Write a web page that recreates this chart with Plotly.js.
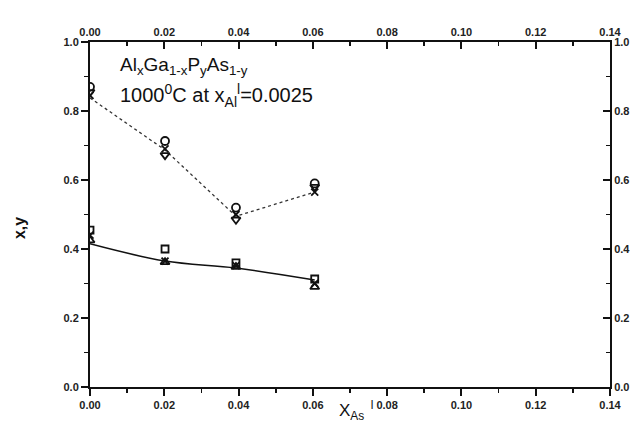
<!DOCTYPE html>
<html>
<head>
<meta charset="utf-8">
<script src="https://cdn.plot.ly/plotly-3.0.1.min.js"></script>
<style>html,body{margin:0;padding:0;background:#fff;}#chart{width:642px;height:426px;}</style>
</head>
<body>
<div id="chart"></div>
<script>
// Upper group (y values)
const xUp = [0, 0.0202, 0.0393, 0.0605];
const upCircle = [0.87, 0.713, 0.52, 0.59];
const upTriDown = [0.855, 0.672, 0.485, 0.58];
const upCross = [0.845, 0.69, 0.50, 0.565];
const upFitX = [0, 0.0202, 0.0393, 0.0605];
const upFit = [0.838, 0.687, 0.495, 0.565];
// Lower group (x values)
const xLow = [0, 0.0202, 0.0393, 0.0605];
const lowSquare = [0.455, 0.40, 0.36, 0.313];
const lowTriUp = [0.425, 0.362, 0.348, 0.29];
const lowCross = [0.44, 0.365, 0.352, 0.30];
const lowFit = [0.415, 0.365, 0.345, 0.31];
const xRange = [0, 0.14];
const yRange = [0, 1.0];

const mk = (sym, sz) => ({symbol: sym, size: sz, color: '#111', line: {color: '#111', width: 1.8}});
const traces = [
  {x: upFitX, y: upFit, mode: 'lines', line: {color: '#333', width: 1.3, dash: 'dot'}},
  {x: xUp, y: upCircle, mode: 'markers', marker: mk('circle-open', 8)},
  {x: xUp, y: upTriDown, mode: 'markers', marker: mk('triangle-down-open', 8)},
  {x: xUp, y: upCross, mode: 'markers', marker: mk('x-thin-open', 7)},
  {x: xLow, y: lowFit, mode: 'lines', line: {color: '#111', width: 1.5, shape: 'spline'}},
  {x: xLow, y: lowSquare, mode: 'markers', marker: mk('square-open', 7)},
  {x: xLow, y: lowTriUp, mode: 'markers', marker: mk('triangle-up-open', 8)},
  {x: xLow, y: lowCross, mode: 'markers', marker: mk('x-thin-open', 7)}
];
const tickFont = {family: 'Liberation Sans, Arial, sans-serif', size: 11, color: '#222', weight: 'bold'};
function xAx(side, tdir, extra) {
  return Object.assign({
    range: xRange, tickmode: 'linear', tick0: 0, dtick: 0.02, tickformat: '.2f',
    showgrid: false, zeroline: false, showline: true, side: side,
    linecolor: '#111', linewidth: 2, ticks: tdir, ticklen: 7, tickwidth: 2, tickcolor: '#111',
    tickfont: tickFont,
    minor: {tickmode: 'linear', tick0: 0, dtick: 0.01, ticks: tdir, ticklen: 4, tickwidth: 1.6, tickcolor: '#111', showgrid: false}
  }, extra || {});
}
function yAx(side, tdir, extra) {
  return Object.assign({
    range: yRange, tickmode: 'linear', tick0: 0, dtick: 0.2, tickformat: '.1f',
    showgrid: false, zeroline: false, showline: true, side: side,
    linecolor: '#111', linewidth: 2, ticks: tdir, ticklen: 7, tickwidth: 2, tickcolor: '#111',
    tickfont: tickFont,
    minor: {tickmode: 'linear', tick0: 0, dtick: 0.1, ticks: tdir, ticklen: 4, tickwidth: 1.6, tickcolor: '#111', showgrid: false}
  }, extra || {});
}
const layout = {
  width: 642, height: 426, showlegend: false,
  paper_bgcolor: '#fff', plot_bgcolor: '#fff',
  margin: {l: 90, r: 32, t: 42, b: 39},
  xaxis: xAx('bottom', 'outside'),
  xaxis2: xAx('top', 'inside', {overlaying: 'x', anchor: 'y'}),
  yaxis: yAx('left', 'outside'),
  yaxis2: yAx('right', 'inside', {overlaying: 'y', anchor: 'x'}),
  annotations: [
    {xref: 'paper', yref: 'paper', x: 0.053, y: 0.93, xanchor: 'left', yanchor: 'middle', showarrow: false,
     text: 'Al<sub>x</sub>Ga<sub>1-x</sub>P<sub>y</sub>As<sub>1-y</sub>',
     font: {family: 'Liberation Sans, Arial, sans-serif', size: 19, color: '#111'}},
    {xref: 'paper', yref: 'paper', x: 0.053, y: 0.845, xanchor: 'left', yanchor: 'middle', showarrow: false,
     text: '1000<sup>0</sup>C at x<sub>Al</sub><sup>l</sup>=0.0025',
     font: {family: 'Liberation Sans, Arial, sans-serif', size: 20, color: '#111'}},
    {xref: 'paper', yref: 'paper', x: 0.475, y: -0.068, xanchor: 'left', yanchor: 'middle', showarrow: false,
     text: 'X<sub>As</sub><sup>  l</sup>',
     font: {family: 'Liberation Sans, Arial, sans-serif', size: 17, color: '#111'}},
    {xref: 'paper', yref: 'paper', x: -0.135, y: 0.46, xanchor: 'center', yanchor: 'middle', showarrow: false,
     textangle: -90, text: 'x,y',
     font: {family: 'Liberation Sans, Arial, sans-serif', size: 16, color: '#111', weight: 'bold'}}
  ]
};
traces.push({x: [0], y: [0], xaxis: 'x2', yaxis: 'y2', mode: 'markers', marker: {opacity: 0}, hoverinfo: 'skip'});
Plotly.newPlot('chart', traces, layout, {staticPlot: true});
</script>
</body>
</html>
